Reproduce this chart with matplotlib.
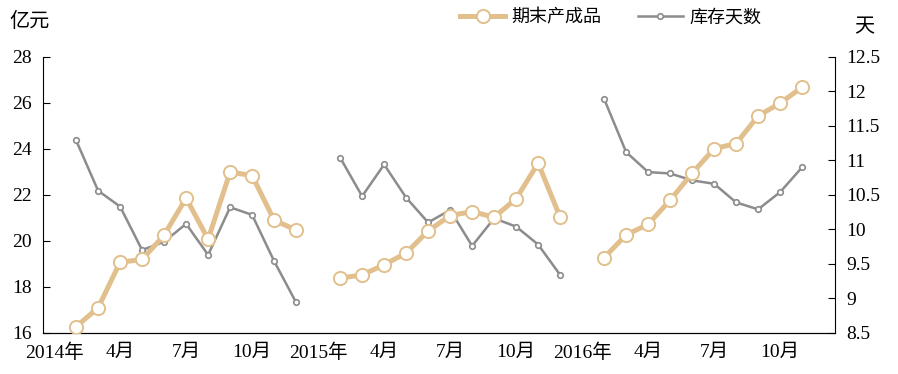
import numpy as np
import matplotlib.pyplot as plt

plt.rcParams['font.family'] = ['Liberation Serif', 'Noto Sans CJK SC']

# monthly data, Jan of each year missing (Jan-Feb combined)
months = ['2014年', '', '', '4月', '', '', '7月', '', '', '10月', '', '',
          '2015年', '', '', '4月', '', '', '7月', '', '', '10月', '', '',
          '2016年', '', '', '4月', '', '', '7月', '', '', '10月', '', '']

stock_2014 = [16.27, 17.09, 19.07, 19.19, 20.25, 21.86, 20.07, 22.99, 22.84, 20.90, 20.47]
stock_2015 = [18.38, 18.52, 18.96, 19.47, 20.43, 21.10, 21.27, 21.03, 21.83, 23.38, 21.03]
stock_2016 = [19.27, 20.26, 20.72, 21.77, 22.94, 24.01, 24.23, 25.43, 25.99, 26.68]

days_2014 = [11.29, 10.56, 10.33, 9.70, 9.82, 10.08, 9.63, 10.32, 10.21, 9.54, 8.94]
days_2015 = [11.04, 10.48, 10.94, 10.46, 10.10, 10.28, 9.76, 10.16, 10.04, 9.78, 9.34]
days_2016 = [11.89, 11.12, 10.83, 10.81, 10.71, 10.66, 10.39, 10.29, 10.54, 10.90]

nan = [np.nan]
stock = nan + stock_2014 + nan + stock_2015 + nan + stock_2016 + nan
days = nan + days_2014 + nan + days_2015 + nan + days_2016 + nan
x = np.arange(len(months))

tan = '#E2C08E'
grey = '#8C8C8C'

fig = plt.figure(figsize=(8.98, 3.74), dpi=100)
ax = fig.add_axes([0.048, 0.110, 0.882, 0.738])
ax2 = ax.twinx()

l1, = ax.plot(x, stock, color=tan, lw=3.6, marker='o', ms=9.5,
              mfc='white', mec=tan, mew=1.4, zorder=3, label='期末产成品')
l2, = ax2.plot(x, days, color=grey, lw=1.8, marker='o', ms=4,
               mfc='white', mec=grey, mew=1.2, label='库存天数')
ax.set_zorder(ax2.get_zorder() + 1)
ax.patch.set_visible(False)

ax.set_xlim(-0.5, 35.5)
ax.set_ylim(16, 28)
ax.set_yticks(range(16, 29, 2))
ax2.set_ylim(8.5, 12.5)
ax2.set_yticks(np.arange(8.5, 12.51, 0.5))
ax2.set_yticklabels([f'{v:g}' for v in np.arange(8.5, 12.51, 0.5)])

ax.set_xticks(x)
ax.set_xticklabels(months)
ax.tick_params(axis='x', length=0, pad=8, labelsize=14)
ax.tick_params(axis='y', direction='in', length=5, labelsize=14, pad=8)
ax2.tick_params(axis='y', direction='in', length=5, labelsize=14, pad=8)

for a in (ax, ax2):
    a.spines['top'].set_visible(False)
ax.spines['right'].set_visible(False)
ax2.spines['left'].set_visible(False)

fig.text(0.011, 0.94, '亿元', fontsize=14.5, va='center')
fig.text(0.951, 0.925, '天', fontsize=14.5, va='center')

fig.legend(handles=[l1, l2], loc='center', bbox_to_anchor=(0.68, 0.952),
           ncol=2, frameon=False, fontsize=13, handlelength=2.5,
           columnspacing=2.0, handletextpad=0.35)

fig.savefig('out.png', dpi=100)
